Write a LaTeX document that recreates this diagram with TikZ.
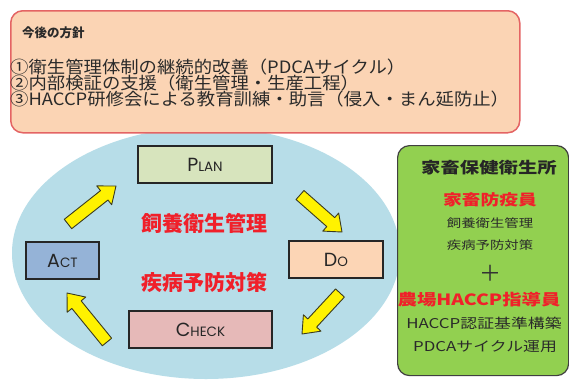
\documentclass[tikz,border=0pt]{standalone}
\usepackage{fontspec}
\usetikzlibrary{calc}
\newfontfamily\jp{Noto Sans CJK JP}
\newfontfamily\jpt[FakeStretch=1.08]{Noto Sans CJK JP}
\newfontfamily\jpw[FakeStretch=1.25]{Noto Sans CJK JP}
\newfontfamily\capsf{Poppins}
\newcommand\fs[1]{\fontsize{#1}{#1}\selectfont}
\definecolor{topfill}{HTML}{FBD4B4}
\definecolor{topedge}{HTML}{E46464}
\definecolor{ellc}{HTML}{B7DDE8}
\definecolor{planc}{HTML}{D7E4BD}
\definecolor{doc}{HTML}{FCD5B5}
\definecolor{actc}{HTML}{95B3D7}
\definecolor{checkc}{HTML}{E6B9B8}
\definecolor{greenc}{HTML}{92D050}
\definecolor{redt}{HTML}{F0202A}
\definecolor{arrowedge}{HTML}{3A3A20}
\definecolor{grayt}{HTML}{2A2A2A}
\tikzset{
  pdcabox/.style={draw=black!85, line width=1.6pt, minimum height=37pt, inner sep=0pt, text=black!85},
  blockarrow/.style={fill=yellow, draw=arrowedge, line width=0.9pt, line join=round},
  toptext/.style={anchor=west, inner sep=0pt, text=grayt, font=\jpt\fs{17}},
  redcenter/.style={inner sep=0pt, text=redt, font=\jp\bfseries\fs{21}},
  gtext/.style={inner sep=0pt, text=grayt},
}
\newcommand\pdcalabel[2]{\capsf\fs{19}#1\fs{13.5}#2}
\newcommand\blkarrow[2]{%
  \filldraw[blockarrow] let \p1=($(#2)-(#1)$), \n1={atan2(\y1,\x1)}, \n2={veclen(\x1,\y1)}, \n3={veclen(\x1,\y1)-15} in
   [shift={(#1)}, rotate=\n1] (0pt,-6pt) -- (\n3,-6pt) -- (\n3,-12pt) -- (\n2,0pt) -- (\n3,12pt) -- (\n3,6pt) -- (0pt,6pt) -- cycle;}
\begin{document}
\begin{tikzpicture}[x=1pt,y=-1pt]
\useasboundingbox (0,0) rectangle (569,381);
\fill[white] (0,0) rectangle (569,381);
% ellipse
\fill[ellc] (206,253) ellipse [x radius=194pt, y radius=126pt];
% policy box
\node[draw=topedge, fill=topfill, rounded corners=12pt, line width=1.5pt, minimum width=509pt, minimum height=122pt, inner sep=0pt, anchor=north west] (policy) at (10,10) {};
\node[anchor=west, inner sep=0pt, font=\jp\bfseries\fs{12.5}, text=grayt] (ptitle) at (22,33) {今後の方針};
\node[toptext] (l1) at (10,67) {①衛生管理体制の継続的改善（PDCAサイクル）};
\node[toptext] (l2) at (10,83) {②内部検証の支援（衛生管理・生産工程）};
\node[toptext] (l3) at (10,99.5) {③HACCP研修会による教育訓練・助言（侵入・まん延防止）};
% PDCA boxes
\node[pdcabox, fill=planc, minimum width=134pt] (plan) at (205,164.5) {\pdcalabel{P}{LAN}};
\node[pdcabox, fill=doc, minimum width=94pt] (do) at (336,259.5) {\pdcalabel{D}{O}};
\node[pdcabox, fill=actc, minimum width=73pt] (act) at (62.5,260.5) {\pdcalabel{A}{CT}};
\node[pdcabox, fill=checkc, minimum width=143pt] (check) at (200.5,329.5) {\pdcalabel{C}{HECK}};
% arrows
\coordinate (a1s) at (68,224); \coordinate (a1e) at (116,186);
\coordinate (a2s) at (300,195); \coordinate (a2e) at (342,232);
\coordinate (a3s) at (340,293); \coordinate (a3e) at (302,334);
\coordinate (a4s) at (107,342); \coordinate (a4e) at (67,293);
\blkarrow{a1s}{a1e}
\blkarrow{a2s}{a2e}
\blkarrow{a3s}{a3e}
\blkarrow{a4s}{a4e}
% center text
\node[redcenter] (c1) at (204,223) {飼養衛生管理};
\node[redcenter] (c2) at (204,282) {疾病予防対策};
% green box
\node[draw=black!75, fill=greenc, rounded corners=12pt, line width=1.2pt, minimum width=171pt, minimum height=230pt, inner sep=0pt, anchor=north west] (office) at (397,145) {};
\node[gtext, font=\jpw\bfseries\fs{15.5}, text=black!85] (g1) at (489,168) {家畜保健衛生所};
\node[gtext, font=\jpw\bfseries\fs{15}, text=redt] (g2) at (490,200) {家畜防疫員};
\node[gtext, font=\jpw\fs{11.5}] (g3) at (490,223) {飼養衛生管理};
\node[gtext, font=\jpw\fs{11.5}] (g4) at (490,245) {疾病予防対策};
\node[gtext, font=\jp\fs{22}, text=black!80] (plus) at (490,273) {＋};
\node[gtext, font=\jpw\bfseries\fs{15.5}, text=redt] (g5) at (479,300) {農場HACCP指導員};
\node[gtext, font=\jpw\fs{13.5}] (g6) at (484,323) {HACCP認証基準構築};
\node[gtext, font=\jpw\fs{13.5}] (g7) at (485,347) {PDCAサイクル運用};
\end{tikzpicture}
\end{document}
